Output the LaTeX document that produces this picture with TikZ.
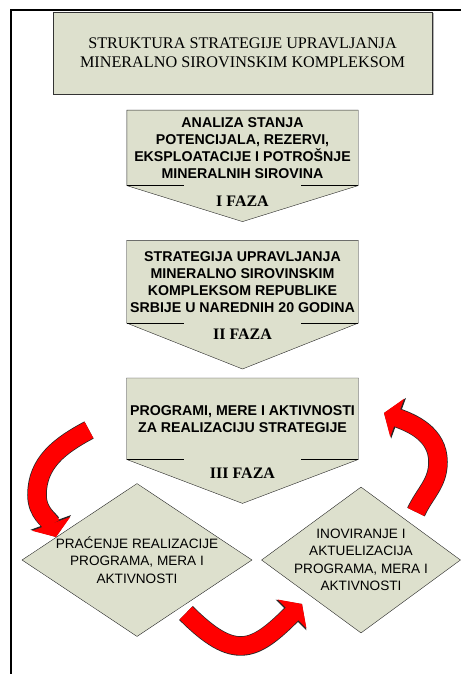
\documentclass[tikz,border=0pt]{standalone}
\usepackage{fontspec}
\setmainfont{Liberation Serif}
\setsansfont{Liberation Sans}
\usetikzlibrary{arrows.meta, positioning, backgrounds, calc, shapes.geometric, shadows}
\definecolor{fazacolor}{RGB}{221,224,205}
\tikzset{
  naslov/.style={draw=black!80, fill=fazacolor, minimum width=379pt,
                 minimum height=82pt, font=\fontsize{16.2}{19}\selectfont,
                 align=center, drop shadow={shadow xshift=1.5pt,
                 shadow yshift=-1.5pt, opacity=.6}},
  faza/.style={minimum width=231pt, minimum height=#1, align=center,
               font=\sffamily\bfseries\fontsize{14.2}{17}\selectfont},
  faza/.default=81pt,
  fazaoblik/.style={draw=black!85, fill=fazacolor},
  fazalabel/.style={font=\bfseries\fontsize{16}{18}\selectfont, inner sep=0pt},
  romb/.style={diamond, draw=black!85, fill=fazacolor, align=center,
               font=\sffamily\fontsize{13.6}{17.5}\selectfont, inner sep=-20pt},
  strela/.style={line width=18pt, draw=red, -{Triangle[width=40pt,length=14pt]},
                 preaction={draw=black!85, line width=19.5pt,
                            -{Triangle[width=42.5pt,length=15.5pt]}}},
  okvir/.style={line width=2.5pt},
}

\begin{document}
\begin{tikzpicture}[x=1pt, y=1pt]
  \useasboundingbox (0,0) rectangle (461,-674);

  % okvir
  \draw[okvir] (10,-10) -- (461,-10);
  \draw[okvir] (11,-10) -- (11,-674);

  \node[naslov] (naslov) at (242.5,-53)
    {STRUKTURA STRATEGIJE UPRAVLJANJA\\MINERALNO SIROVINSKIM KOMPLEKSOM};

  \node[faza=75pt, below=16pt of naslov] (faza1)
    {ANALIZA STANJA\\POTENCIJALA, REZERVI,\\EKSPLOATACIJE I POTROŠNJE\\MINERALNIH SIROVINA};
  \node[faza=82pt, below=55pt of faza1] (faza2)
    {STRATEGIJA UPRAVLJANJA\\MINERALNO SIROVINSKIM\\KOMPLEKSOM REPUBLIKE\\SRBIJE U NAREDNIH 20 GODINA};
  \node[faza=81pt, below=55pt of faza2] (faza3)
    {PROGRAMI, MERE I AKTIVNOSTI\\ZA REALIZACIJU STRATEGIJE};

  \begin{scope}[on background layer]
    \foreach \f/\d in {faza1/36, faza2/46, faza3/44} {
      \draw[fazaoblik] (\f.north west) -- (\f.north east) -- (\f.south east)
        -- ($(\f.south)+(0,-\d)$) -- (\f.south west) -- cycle;
      \draw (\f.south west) -- ++(57,0);
      \draw (\f.south east) -- ++(-57,0);
    }
  \end{scope}

  \node[fazalabel, below=10pt of faza1.south] (oznaka1) {I FAZA};
  \node[fazalabel, below=6pt of faza2.south] (oznaka2) {II FAZA};
  \node[fazalabel, below=8pt of faza3.south] (oznaka3) {III FAZA};

  \node[romb, minimum width=230pt, minimum height=153pt] (pracenje) at (137,-560)
    {PRAĆENJE REALIZACIJE\\PROGRAMA, MERA I\\AKTIVNOSTI};
  \node[romb, minimum width=199pt, minimum height=146pt] (inoviranje) at (361,-560)
    {INOVIRANJE I\\AKTUELIZACIJA\\PROGRAMA, MERA I\\AKTIVNOSTI};

  % strelice ciklusa
  \coordinate (s1a) at (89,-430);
  \coordinate (s1b) at (37,-495);
  \coordinate (s1c) at (56,-537);
  \coordinate (s2a) at (186,-613);
  \coordinate (s2b) at (302,-604);
  \coordinate (s3a) at (416,-512);
  \coordinate (s3b) at (438,-462);
  \coordinate (s3c) at (384,-413);

  \draw[strela] (s1a) to[out=208, in=90] (s1b) to[out=-90, in=110] (s1c);
  \draw[strela] (s2a) to[out=-45, in=225, looseness=1.5] (s2b);
  \draw[strela] (s3a) to[out=65, in=-90] (s3b) to[out=90, in=-20] (s3c);
\end{tikzpicture}
\end{document}
